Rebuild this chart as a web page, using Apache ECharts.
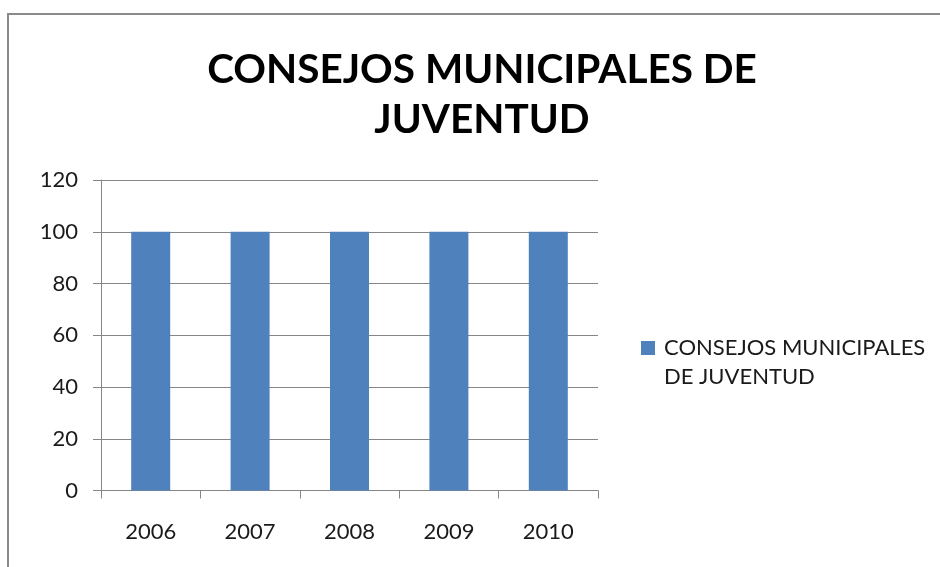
<!DOCTYPE html>
<html><head><meta charset="utf-8">
<script src="https://cdn.jsdelivr.net/npm/echarts@6/dist/echarts.min.js"></script>
<style>
html,body{margin:0;padding:0;background:#fff;overflow:hidden}
#c{position:absolute;left:0;top:0;width:940px;height:567px}
#b{position:absolute;left:7px;top:13px;width:1000px;height:1000px;border:2px solid #8a8a8a;pointer-events:none}
</style></head>
<body>
<div id="c"></div><div id="b"></div>
<script>
const categories = ['2006','2007','2008','2009','2010'];
const values = [100, 100, 100, 100, 100];
const seriesName = 'CONSEJOS MUNICIPALES DE JUVENTUD';
const titleText = 'CONSEJOS MUNICIPALES DE\nJUVENTUD';
const yTicks = {min: 0, max: 120, interval: 20};

const font = 'Lato';
const chart = echarts.init(document.getElementById('c'), null, {renderer: 'canvas'});
chart.setOption({
  animation: false,
  title: {
    text: titleText,
    left: 477, top: 40, textAlign: 'center',
    textStyle: {fontFamily: font, fontWeight: 'bold', fontSize: 40.5, lineHeight: 50, color: '#000'}
  },
  legend: {
    orient: 'vertical', left: 636, top: 329,
    itemWidth: 18, itemHeight: 43, itemGap: 10,
    icon: 'path://M0,0H14V14H0Z M18,43',
    formatter: () => 'CONSEJOS MUNICIPALES\nDE JUVENTUD',
    textStyle: {fontFamily: font, fontSize: 22, lineHeight: 28.5, color: '#1a1a1a'}
  },
  grid: {left: 101, right: 342, top: 180, bottom: 76.5, containLabel: false},
  xAxis: {
    type: 'category', data: categories,
    axisLine: {lineStyle: {color: '#868686', width: 1}},
    axisTick: {show: true, length: 8, lineStyle: {color: '#868686'}},
    axisLabel: {fontFamily: font, fontSize: 22, color: '#1a1a1a', margin: 30}
  },
  yAxis: {
    type: 'value', min: yTicks.min, max: yTicks.max, interval: yTicks.interval,
    axisLine: {show: true, lineStyle: {color: '#868686', width: 1}},
    axisTick: {show: true, length: 8, lineStyle: {color: '#868686'}},
    splitLine: {show: true, lineStyle: {color: '#868686', width: 1}},
    axisLabel: {fontFamily: font, fontSize: 22, color: '#1a1a1a', margin: 23}
  },
  series: [{
    name: seriesName, type: 'bar', data: values, barWidth: 39,
    itemStyle: {color: '#4f81bd'}
  }]
});
</script>
</body></html>
